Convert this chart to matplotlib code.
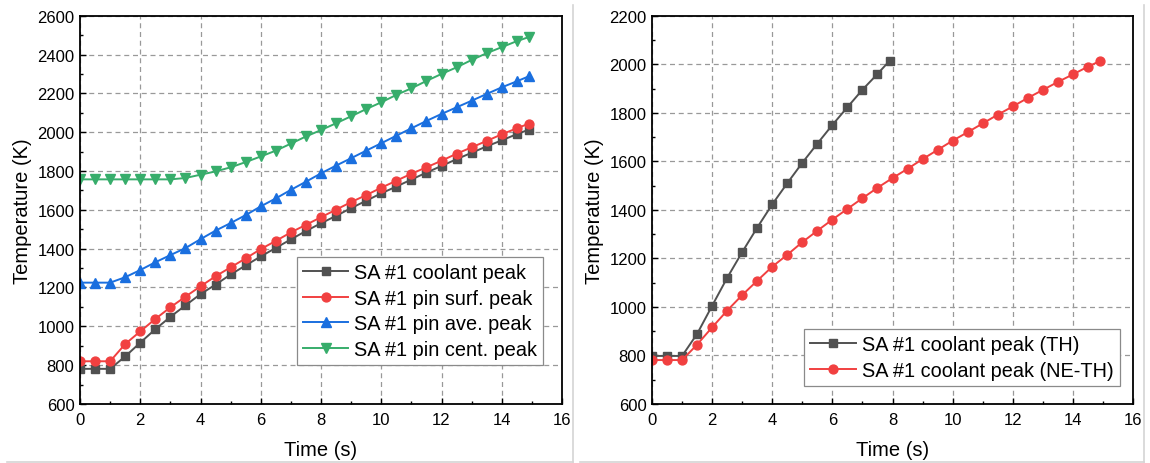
import matplotlib
matplotlib.use("Agg")
import matplotlib.pyplot as plt
from matplotlib.lines import Line2D
from matplotlib.ticker import MultipleLocator

plt.rcParams['font.family'] = ['Liberation Sans', 'DejaVu Sans']

# ---- data ----
time_full = [0, 0.5, 1.0, 1.5, 2.0, 2.5, 3.0, 3.5, 4.0, 4.5, 5.0, 5.5, 6.0, 6.5, 7.0,
             7.5, 8.0, 8.5, 9.0, 9.5, 10.0, 10.5, 11.0, 11.5, 12.0, 12.5, 13.0, 13.5,
             14.0, 14.5, 14.9]
time_th = [0, 0.5, 1.0, 1.5, 2.0, 2.5, 3.0, 3.5, 4.0, 4.5, 5.0, 5.5, 6.0, 6.5, 7.0,
           7.5, 7.9]

coolant_peak = [781, 781, 781, 845, 916, 985, 1049, 1108, 1166, 1215, 1267, 1314, 1360,
                1404, 1448, 1491, 1531, 1569, 1609, 1647, 1685, 1720, 1756, 1792, 1826,
                1861, 1894, 1927, 1958, 1990, 2013]
pin_surf_peak = [820, 820, 820, 909, 974, 1038, 1098, 1153, 1206, 1258, 1304, 1350, 1398,
                 1440, 1484, 1523, 1562, 1601, 1640, 1676, 1714, 1750, 1786, 1819, 1853,
                 1889, 1922, 1955, 1989, 2020, 2044]
pin_ave_peak = [1225, 1225, 1225, 1253, 1290, 1330, 1367, 1403, 1449, 1493, 1532, 1573,
                1618, 1659, 1703, 1745, 1788, 1828, 1866, 1905, 1943, 1982, 2020, 2058,
                2094, 2128, 2162, 2197, 2231, 2262, 2288]
pin_cent_peak = [1757, 1757, 1757, 1757, 1757, 1757, 1757, 1764, 1781, 1798, 1819, 1846,
                 1875, 1905, 1941, 1978, 2011, 2046, 2082, 2119, 2154, 2192, 2226, 2264,
                 2300, 2334, 2372, 2407, 2438, 2469, 2490]
coolant_peak_th = [798, 798, 798, 889, 1005, 1120, 1226, 1327, 1423, 1510, 1594, 1673,
                   1750, 1823, 1895, 1960, 2014]
coolant_peak_neth = coolant_peak

left_labels = ["SA #1 coolant peak", "SA #1 pin surf. peak",
               "SA #1 pin ave. peak", "SA #1 pin cent. peak"]
right_labels = ["SA #1 coolant peak (TH)", "SA #1 coolant peak (NE-TH)"]

# ---- style ----
C_BLACK = "#515151"
C_RED = "#F14040"
C_BLUE = "#1A6FDF"
C_GREEN = "#37AD6B"

fig = plt.figure(figsize=(11.5, 4.64), dpi=100)
ax1 = fig.add_axes([0.0696, 0.1272, 0.4191, 0.8368])
ax2 = fig.add_axes([0.5670, 0.1272, 0.4182, 0.8368])


def style_axes(ax, ylim, ymajor, yminor):
    ax.set_xlim(0, 16)
    ax.set_ylim(*ylim)
    ax.xaxis.set_major_locator(MultipleLocator(2))
    ax.xaxis.set_minor_locator(MultipleLocator(1))
    ax.yaxis.set_major_locator(MultipleLocator(ymajor))
    ax.yaxis.set_minor_locator(MultipleLocator(yminor))
    ax.tick_params(which='both', direction='in', top=False, right=False,
                   labelsize=12, width=1.0, color='black')
    ax.tick_params(which='major', length=4, pad=4)
    ax.tick_params(axis='x', which='major', pad=6)
    ax.tick_params(which='minor', length=2.2)
    for s in ax.spines.values():
        s.set_linewidth(1.3)
        s.set_color('black')
    ax.grid(True, which='major', linestyle=(0, (4, 3)), color='#999999', linewidth=0.9)
    ax.set_axisbelow(True)
    ax.set_xlabel("Time (s)", fontsize=14.5, labelpad=9)
    ax.set_ylabel("Temperature (K)", fontsize=14.5, labelpad=4)


style_axes(ax1, (600, 2600), 200, 100)
style_axes(ax2, (600, 2200), 200, 100)

lw = 1.4
ax1.plot(time_full, coolant_peak, color=C_BLACK, marker='s', ms=5.4, lw=lw, label=left_labels[0])
ax1.plot(time_full, pin_surf_peak, color=C_RED, marker='o', ms=6.4, lw=lw, label=left_labels[1])
ax1.plot(time_full, pin_ave_peak, color=C_BLUE, marker='^', ms=6.8, lw=lw, label=left_labels[2])
ax1.plot(time_full, pin_cent_peak, color=C_GREEN, marker='v', ms=6.8, lw=lw, label=left_labels[3])

ax2.plot(time_th, coolant_peak_th, color=C_BLACK, marker='s', ms=5.6, lw=lw, label=right_labels[0])
ax2.plot(time_full, coolant_peak_neth, color=C_RED, marker='o', ms=6.4, lw=lw, label=right_labels[1])

for ax, anchor in ((ax1, (0.4496, 0.3778)), (ax2, (0.3166, 0.193))):
    leg = ax.legend(loc='upper left', bbox_to_anchor=anchor, borderaxespad=0,
                    fontsize=14.3, frameon=True, fancybox=False, framealpha=1,
                    edgecolor='#8a8a8a', handlelength=2.3, handletextpad=0.3,
                    labelspacing=0.33, borderpad=0.3)
    leg.get_frame().set_linewidth(0.9)

# light panel borders
border = dict(color='#d4d4d4', linewidth=1.2, transform=fig.transFigure)
W, H = 1150, 464
fig.add_artist(Line2D([7 / W, 573 / W], [1 - 463 / H, 1 - 463 / H], **border))
fig.add_artist(Line2D([573 / W, 573 / W], [1 - 6 / H, 1 - 463 / H], **border))
fig.add_artist(Line2D([580 / W, 1144 / W], [1 - 463 / H, 1 - 463 / H], **border))
fig.add_artist(Line2D([1144 / W, 1144 / W], [1 - 6 / H, 1 - 463 / H], **border))

fig.savefig("out.png", dpi=100)
